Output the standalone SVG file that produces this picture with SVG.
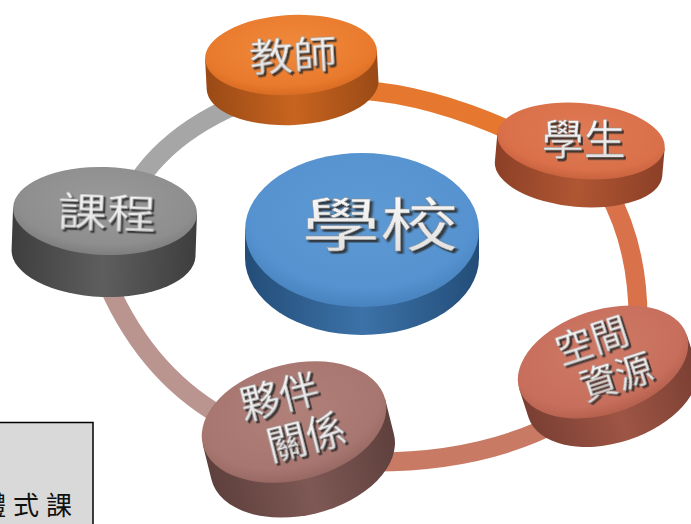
<svg xmlns="http://www.w3.org/2000/svg" width="691" height="524" viewBox="0 0 691 524">
<style>
.ring{fill:none;stroke-width:19;stroke-linecap:butt}
.lbl{font-family:"Noto Sans CJK TC","Noto Sans CJK SC",sans-serif;fill:url(#silver);stroke:#8a8a8a;stroke-width:0.4;text-anchor:middle;filter:url(#emb)}
.box{font-family:"Noto Sans CJK TC","Noto Sans CJK JP",serif;font-size:26px;fill:#111}
</style>
<defs>
<filter id="emb" x="-20%" y="-20%" width="140%" height="150%">
<feDropShadow dx="2" dy="2.5" stdDeviation="0.6" flood-color="#2a2a2a" flood-opacity="0.85"/>
</filter>
<linearGradient id="silver" x1="0" y1="0" x2="0" y2="1">
<stop offset="0" stop-color="#ffffff"/><stop offset="1" stop-color="#dcdcdc"/>
</linearGradient>
<radialGradient id="tOr" cx="50%" cy="40%" r="60%"><stop offset="0" stop-color="#F08A3C"/><stop offset="0.8" stop-color="#E97A2D"/><stop offset="1" stop-color="#D86C22"/></radialGradient>
<linearGradient id="sOr" x1="0" y1="0" x2="1" y2="0"><stop offset="0" stop-color="#9A4A16"/><stop offset="0.5" stop-color="#C8641F"/><stop offset="1" stop-color="#9A4A16"/></linearGradient>
<radialGradient id="tSt" cx="50%" cy="40%" r="60%"><stop offset="0" stop-color="#E07B55"/><stop offset="0.8" stop-color="#D9704A"/><stop offset="1" stop-color="#C8623E"/></radialGradient>
<linearGradient id="sSt" x1="0" y1="0" x2="1" y2="0"><stop offset="0" stop-color="#8C4027"/><stop offset="0.5" stop-color="#B05633"/><stop offset="1" stop-color="#8C4027"/></linearGradient>
<radialGradient id="tSp" cx="50%" cy="40%" r="60%"><stop offset="0" stop-color="#CF7A66"/><stop offset="0.8" stop-color="#C76F5C"/><stop offset="1" stop-color="#B5604E"/></radialGradient>
<linearGradient id="sSp" x1="0" y1="0" x2="1" y2="0"><stop offset="0" stop-color="#7A3F33"/><stop offset="0.5" stop-color="#9E5544"/><stop offset="1" stop-color="#7A3F33"/></linearGradient>
<radialGradient id="tPa" cx="50%" cy="40%" r="60%"><stop offset="0" stop-color="#B08079"/><stop offset="0.8" stop-color="#A87670"/><stop offset="1" stop-color="#976862"/></radialGradient>
<linearGradient id="sPa" x1="0" y1="0" x2="1" y2="0"><stop offset="0" stop-color="#5E403D"/><stop offset="0.5" stop-color="#7E5854"/><stop offset="1" stop-color="#5E403D"/></linearGradient>
<radialGradient id="tCu" cx="50%" cy="40%" r="60%"><stop offset="0" stop-color="#9A9A9A"/><stop offset="0.8" stop-color="#8E8E8E"/><stop offset="1" stop-color="#7E7E7E"/></radialGradient>
<linearGradient id="sCu" x1="0" y1="0" x2="1" y2="0"><stop offset="0" stop-color="#3E3E3E"/><stop offset="0.5" stop-color="#5E5E5E"/><stop offset="1" stop-color="#3E3E3E"/></linearGradient>
<radialGradient id="tSc" cx="50%" cy="40%" r="60%"><stop offset="0" stop-color="#5E9AD4"/><stop offset="0.8" stop-color="#5592CF"/><stop offset="1" stop-color="#4883BF"/></radialGradient>
<linearGradient id="sSc" x1="0" y1="0" x2="1" y2="0"><stop offset="0" stop-color="#234D78"/><stop offset="0.5" stop-color="#3C72A8"/><stop offset="1" stop-color="#234D78"/></linearGradient>
</defs>

<g id="connectors">
<path class="ring" stroke="#A6A6A6" d="M 118 225 C 132 175, 172 132, 238 104"/>
<path class="ring" stroke="#E5772E" d="M 360 90 Q 434 95 522 136"/>
<path class="ring" stroke="#D9714A" d="M 608 192 Q 640 250 638 330"/>
<path class="ring" stroke="#C97A65" d="M 562 420 Q 482 463 368 462"/>
<path class="ring" stroke="#BA948F" d="M 232 422 Q 150 380 108 285"/>
</g>

<g id="node-curriculum" transform="translate(105,211) rotate(2)">
<path d="M -92 0 V 42 A 92 44 0 0 0 92 42 V 0 Z" fill="url(#sCu)"/>
<ellipse rx="92" ry="44" fill="url(#tCu)"/>
<text class="lbl" font-size="44" transform="translate(2,16) scale(1.12,0.9)">課程</text>
</g>

<g id="node-teacher" transform="translate(291,55) rotate(-3)">
<path d="M -86 0 V 30 A 86 40 0 0 0 86 30 V 0 Z" fill="url(#sOr)"/>
<ellipse rx="86" ry="40" fill="url(#tOr)"/>
<text class="lbl" font-size="40" transform="translate(2,14) scale(1.1,0.95)">教師</text>
</g>

<g id="node-student" transform="translate(581,141) rotate(5)">
<path d="M -84 0 V 28 A 84 38 0 0 0 84 28 V 0 Z" fill="url(#sSt)"/>
<ellipse rx="84" ry="38" fill="url(#tSt)"/>
<text class="lbl" font-size="42" transform="translate(4,14) rotate(-5)">學生</text>
</g>

<g id="node-school" transform="translate(362,230)">
<path d="M -117 0 V 28 A 117 77 0 0 0 117 28 V 0 Z" fill="url(#sSc)"/>
<ellipse rx="117" ry="77" fill="url(#tSc)"/>
<text class="lbl" font-size="58" transform="translate(18,16) scale(1.35,1)">學校</text>
</g>

<g id="node-space" transform="translate(603,362) rotate(-18)">
<path d="M -88 0 V 30 A 88 52 0 0 0 88 30 V 0 Z" fill="url(#sSp)"/>
<ellipse rx="88" ry="52" fill="url(#tSp)"/>
<text class="lbl" font-size="37" x="-4" y="-10">空間</text>
<text class="lbl" font-size="37" x="8" y="32">資源</text>
</g>

<g id="node-partner" transform="translate(294,422) rotate(-14)">
<path d="M -94 0 V 36 A 94 58 0 0 0 94 36 V 0 Z" fill="url(#sPa)"/>
<ellipse rx="94" ry="58" fill="url(#tPa)"/>
<text class="lbl" font-size="40" x="-8" y="-14">夥伴</text>
<text class="lbl" font-size="40" x="8" y="32">關係</text>
</g>

<g id="note-box">
<rect x="-5" y="422.5" width="98" height="110" fill="#D9D9D9" stroke="#000" stroke-width="1.5"/>
<text class="box" x="-20" y="515" letter-spacing="7">體式課</text>
</g>
</svg>
